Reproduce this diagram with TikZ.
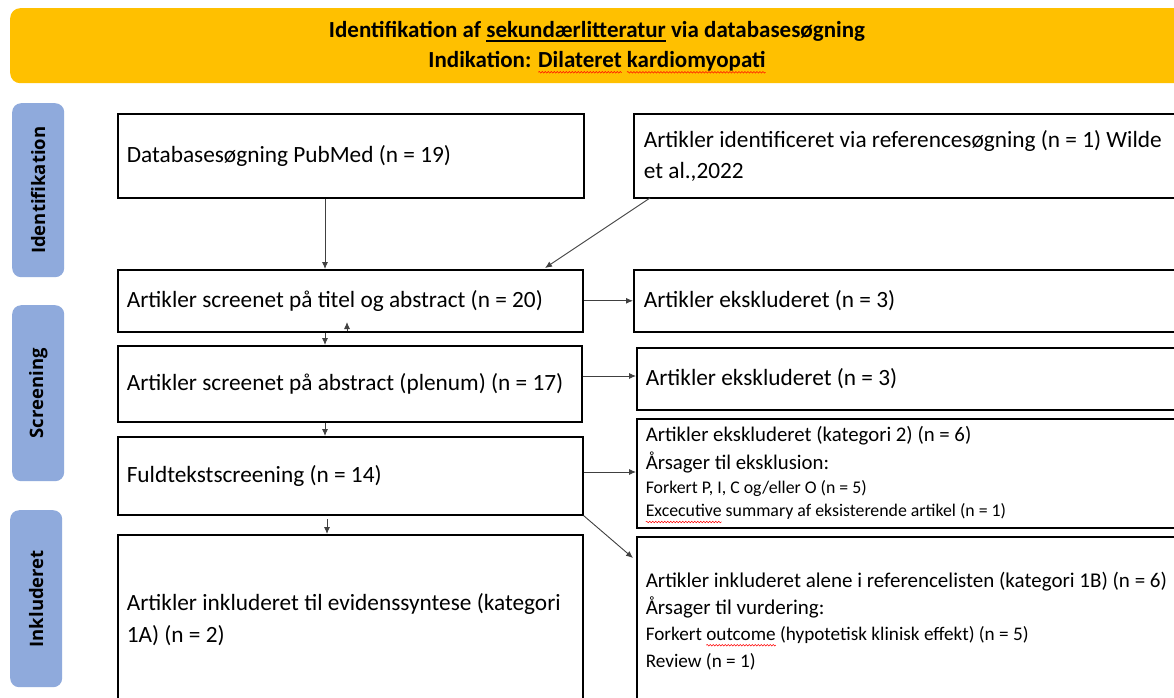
\documentclass[tikz,border=0pt]{standalone}
\usepackage{fontspec}
\setmainfont{Carlito}
\newfontfamily\sidefont{Open Sans}
\usetikzlibrary{arrows.meta,decorations.pathmorphing}
\definecolor{gold}{HTML}{FFC000}
\definecolor{sideblue}{HTML}{8FAADC}
\definecolor{lineg}{HTML}{404040}
\newsavebox\wbox
\newlength\wlen
\newcommand\redwave[1]{\mbox{\sbox\wbox{#1}\setlength\wlen{\wd\wbox}\rlap{\usebox\wbox}\tikz[x=1pt,y=1pt,baseline=0pt]{\useasboundingbox (0,0) rectangle (\wlen,0); \draw[red,line width=0.5pt,decorate,decoration={snake,segment length=3pt,amplitude=0.8pt}] (0,-5) -- (\wlen,-5);}}}
\newcommand\blackline[1]{\mbox{\sbox\wbox{#1}\setlength\wlen{\wd\wbox}\rlap{\usebox\wbox}\tikz[x=1pt,y=1pt,baseline=0pt]{\useasboundingbox (0,0) rectangle (\wlen,0); \draw[black,line width=1.8pt] (0,-4) -- (\wlen,-4);}}}
\begin{document}
\begin{tikzpicture}[x=1pt,y=-1pt,
  box/.style={draw=black, line width=1.6pt, anchor=north west, align=flush left,
    inner xsep=9pt, inner ysep=0pt, font=\fontsize{23.3}{31}\selectfont},
  side/.style={fill=sideblue, rounded corners=9pt, minimum width=52pt, anchor=north west},
  sidetxt/.style={font=\sidefont\bfseries\fontsize{18.5}{20}\selectfont, rotate=90},
  arr/.style={draw=lineg, line width=0.9pt, -{Latex[length=7pt,width=6pt]}}]
\clip (0,0) rectangle (1174,697);
\fill[white] (0,0) rectangle (1174,697);
% header
\node[fill=gold, rounded corners=10pt, anchor=north west, minimum width=1190pt, minimum height=75pt] (head) at (10,8) {};
\node[font=\bfseries\fontsize{23}{30}\selectfont, align=flush center] (title) at (597,46)
  {Identifikation af \blackline{sekundærlitteratur} via databasesøgning\\
   Indikation: \redwave{Dilateret} \redwave{kardiomyopati}};
% sidebars
\node[side, minimum height=174pt] (s1) at (12,103) {};
\node[sidetxt] (s1t) at (s1.center) {Identifikation};
\node[side, minimum height=176pt] (s2) at (12,305) {};
\node[sidetxt] (s2t) at (s2.center) {Screening};
\node[side, minimum height=177pt] (s3) at (10,510) {};
\node[sidetxt] (s3t) at (s3.center) {Inkluderet};
% left column
\node[box, minimum width=466pt, minimum height=84pt, text width=448pt] (b1) at (117,113) {Databasesøgning PubMed (n = 19)};
\node[box, minimum width=465pt, minimum height=62pt, text width=447pt] (b2) at (117,269) {Artikler screenet på titel og abstract (n = 20)};
\node[box, minimum width=464pt, minimum height=76pt, text width=446pt] (b3) at (117,345) {Artikler screenet på abstract (plenum) (n = 17)};
\node[box, minimum width=465pt, minimum height=78pt, text width=447pt] (b4) at (117,436) {Fuldtekstscreening (n = 14)};
\node[box, minimum width=465pt, minimum height=170pt, text width=447pt, font=\fontsize{23.3}{32}\selectfont] (b5) at (117,534) {Artikler inkluderet til evidenssyntese (kategori\\1A) (n = 2)};
% right column
\node[box, minimum width=570pt, minimum height=84pt, text width=550pt, inner xsep=10pt] (ra) at (633,113) {Artikler identificeret via referencesøgning (n = 1) Wilde\\et al.,2022};
\node[box, minimum width=570pt, minimum height=62pt, text width=550pt, inner xsep=10pt] (rb) at (633,269) {Artikler ekskluderet (n = 3)};
\node[box, minimum width=570pt, minimum height=62pt, text width=552pt] (rc) at (636,347) {Artikler ekskluderet (n = 3)};
\node[box, minimum width=570pt, minimum height=109pt, text width=552pt, font=\fontsize{20.8}{28}\selectfont] (rd) at (636,418)
  {Artikler ekskluderet (kategori 2) (n = 6)\\
   Årsager til eksklusion:\\[-4pt]
   {\fontsize{17.8}{24}\selectfont Forkert P, I, C og/eller O (n = 5)}\\[-5pt]
   {\fontsize{17.8}{23}\selectfont \redwave{Excecutive} summary af eksisterende artikel (n = 1)}};
\node[box, minimum width=570pt, minimum height=168pt, text width=552pt, font=\fontsize{21}{27}\selectfont] (re) at (636,536)
  {Artikler inkluderet alene i referencelisten (kategori 1B) (n = 6)\\
   Årsager til vurdering:\\[-1pt]
   {\fontsize{19.2}{26}\selectfont Forkert \redwave{outcome} (hypotetisk klinisk effekt) (n = 5)}\\
   {\fontsize{19.2}{26}\selectfont Review (n = 1)}};
% connectors
\coordinate (mx) at (325,0);
\coordinate (a1) at (650,198);
\coordinate (a2) at (545,268);
\draw[arr] (b1.south -| mx) -- (b2.north -| mx);
\draw[arr] (a1) -- (a2);
\draw[arr] (b2.east) -- (rb.west);
\draw[arr] (b2.south -| mx) -- (b3.north -| mx);
\coordinate (up1) at (347,331);
\coordinate (up2) at (347,322);
\draw[arr] (up1) -- (up2);
\draw[arr] (b3.east |- 0,376) -- (rc.west |- 0,376);
\draw[arr] (b3.south -| mx) -- (b4.north -| mx);
\draw[arr] (b4.east |- 0,472) -- (rd.west |- 0,472);
\coordinate (c1) at (327,519);
\draw[arr] (c1) -- (c1 |- b5.north);
\draw[arr] (b4.south east) -- (633,558);
\end{tikzpicture}
\end{document}
